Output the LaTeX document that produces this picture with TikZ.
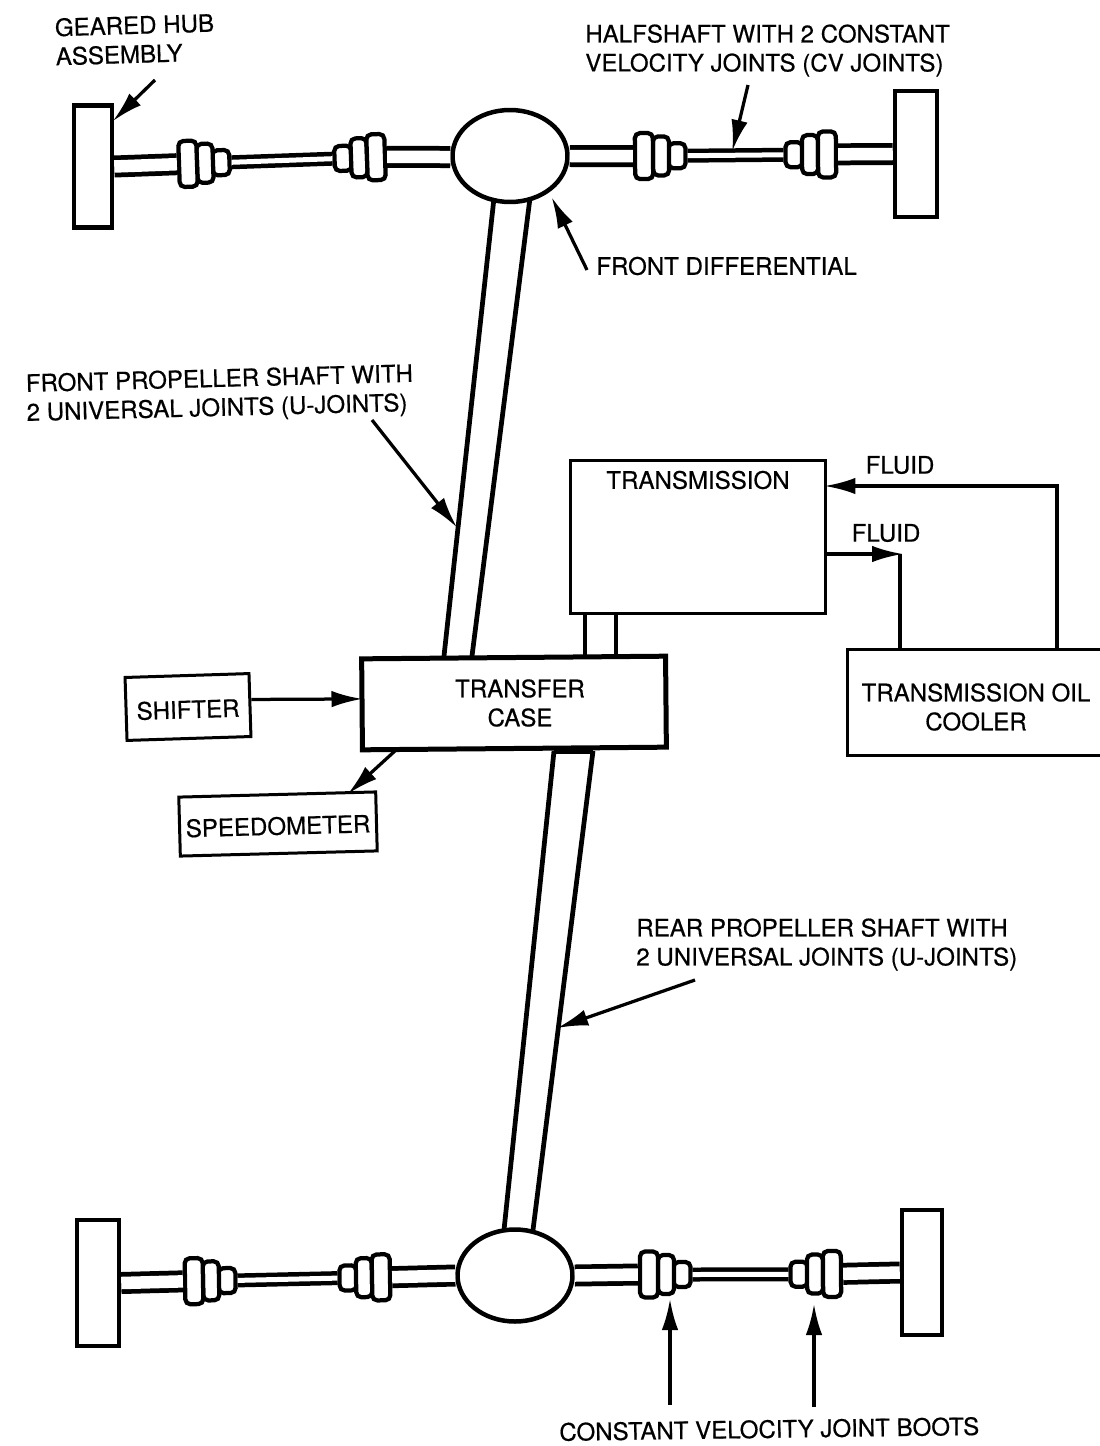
\documentclass[tikz,border=0pt]{standalone}
\usepackage{fontspec}
\setmainfont{TeX Gyre Heros}[BoldFont=TeX Gyre Heros, BoldFeatures={FakeBold=0.5}]
\usetikzlibrary{shapes.geometric, arrows.meta, positioning, calc}
\tikzset{
  hubbox/.style={rectangle, draw, fill=white, line width=0.09cm, minimum width=0.76cm, minimum height=2.44cm, inner sep=0pt},
  diffnode/.style={ellipse, draw, fill=white, line width=0.09cm, minimum width=2.3cm, minimum height=1.84cm, inner sep=0pt},
  bigboot/.style={rectangle, draw, fill=white, line width=0.085cm, rounded corners=0.1cm, minimum width=0.36cm, minimum height=0.92cm, inner sep=0pt, transform shape},
  midboot/.style={bigboot, minimum width=0.32cm, minimum height=0.78cm},
  smallboot/.style={bigboot, minimum width=0.34cm, minimum height=0.5cm},
  tube/.style={draw, line width=0.095cm, double=white, double distance=0.25cm},
  thinshaft/.style={draw, line width=0.09cm, double=white, double distance=0.1cm},
  propline/.style={line width=0.095cm},
  block/.style={rectangle, draw, fill=white, line width=0.06cm, align=center, font=\labelfont, inner sep=0pt},
  txt/.style={align=left, anchor=west, inner sep=0pt, font=\labelfont},
  pipe/.style={line width=0.07cm},
  arrow/.style={-{Latex[length=0.62cm,width=0.33cm]}, line width=0.065cm, shorten >=-0.06cm},
  cvboot/.pic={
    \node[smallboot] (-small) at (24,0) {};
    \node[midboot] (-mid) at (8,0) {};
    \node[bigboot] (-big) at (-9,0) {};
  }
}
\newcommand{\labelfont}{\fontsize{13.7}{16.5}\bfseries\selectfont}
\begin{document}
\begin{tikzpicture}[x=0.02cm, y=-0.02cm]
  \useasboundingbox (0,0) rectangle (1099,1446);

  % Front axle
  \node[hubbox] (hubfl) at (93,166.5) {};
  \node[hubbox, minimum width=0.84cm, minimum height=2.52cm] (hubfr) at (916,154) {};
  \node[diffnode] (fdiff) at (510,156) {};
  \pic[rotate=2] (fla) at (197,163.5) {cvboot};
  \pic[rotate=2, xscale=-1] (flb) at (367,157.5) {cvboot};
  \pic[rotate=0.5] (fra) at (653,156) {cvboot};
  \pic[rotate=0.5, xscale=-1] (frb) at (818,154.5) {cvboot};
  \draw[tube] (hubfl.east) -- (fla-big.west);
  \draw[thinshaft] (fla-small.east) -- (flb-small.east);
  \draw[tube] (flb-big.west) -- (fdiff.181);
  \draw[tube] (fdiff.east) -- (fra-big.west);
  \draw[thinshaft] (fra-small.east) -- (frb-small.east);
  \draw[tube] (frb-big.west) -- (hubfr.west);

  % Rear axle
  \node[hubbox, minimum width=0.84cm, minimum height=2.52cm] (hubrl) at (98,1283) {};
  \node[hubbox, minimum width=0.8cm, minimum height=2.5cm] (hubrr) at (922,1272.5) {};
  \node[diffnode] (rdiff) at (515,1275.5) {};
  \pic[rotate=1] (rla) at (203,1281) {cvboot};
  \pic[rotate=1, xscale=-1] (rlb) at (372,1277.5) {cvboot};
  \pic (rra) at (658,1274.5) {cvboot};
  \pic[rotate=0.5, xscale=-1] (rrb) at (823,1274) {cvboot};
  \draw[tube] (hubrl.east) -- (rla-big.west);
  \draw[thinshaft] (rla-small.east) -- (rlb-small.east);
  \draw[tube] (rlb-big.west) -- (rdiff.west);
  \draw[tube] (rdiff.east) -- (rra-big.west);
  \draw[thinshaft] (rra-small.east) -- (rrb-small.east);
  \draw[tube] (rrb-big.west) -- (hubrr.west);

  % Boxes
  \node[block, minimum width=5.12cm, minimum height=3.08cm] (trans) at (698,537) {};
  \node[txt, anchor=center] (transtxt) at (698,480) {TRANSMISSION};
  \node[block, line width=0.1cm, rotate=0.5, minimum width=6.08cm, minimum height=1.82cm] (tcase) at (514,703) {};
  \node[txt, anchor=center, align=center] (tcasetxt) at (520,703) {TRANSFER\\CASE};
  \node[block, rotate=1.8, text height=0.46cm, minimum width=2.48cm, minimum height=1.26cm] (shifter) at (188,707) {SHIFTER};
  \node[block, rotate=1.5, text height=0.44cm, minimum width=3.94cm, minimum height=1.18cm] (speedo) at (278,824) {SPEEDOMETER};
  \node[block, minimum width=5.16cm, minimum height=2.14cm] (cooler) at (976,702.5) {};
  \node[txt, anchor=center, align=center] (coolertxt) at (976,707) {TRANSMISSION OIL\\COOLER};

  % Propeller shafts
  \coordinate (fpa) at (494,198);
  \coordinate (fpb) at (530,198);
  \coordinate (fpc) at (444,656);
  \coordinate (fpd) at (472,656);
  \draw[propline] (fpa) -- (fpc);
  \draw[propline] (fpb) -- (fpd);
  \coordinate (rpa) at (554,751);
  \coordinate (rpb) at (593,751);
  \coordinate (rpc) at (504,1230);
  \coordinate (rpd) at (533,1230);
  \draw[propline] (rpa) -- (rpc);
  \draw[propline] (rpb) -- (rpd);
  \draw[line width=0.12cm] (rpa) -- (rpb);
  \coordinate (stuba) at (585,614);
  \coordinate (stubb) at (616,614);
  \draw[propline] (stuba) -- (stuba |- tcase.north);
  \draw[propline] (stubb) -- (stubb |- tcase.north);

  % Fluid lines
  \coordinate (fluida) at (1057,486);
  \coordinate (fluidb) at (900,554);
  \draw[arrow] (cooler.north -| fluida) -- (fluida) -- (trans.east |- fluida);
  \draw[arrow] (trans.east |- fluidb) -- (fluidb);
  \draw[pipe] (cooler.north -| fluidb) -- (fluidb);

  % Box connections
  \coordinate (tailspeedo) at (396,750);
  \coordinate (tipspeedo) at (350,792);
  \draw[arrow] (shifter.5.5) -- (tcase.178);
  \draw[arrow] (tailspeedo) -- (tipspeedo);

  % Labels
  \node[txt, rotate=1.7] (lblhub) at (55,42) {GEARED HUB\\ASSEMBLY};
  \node[txt] (lblhalf) at (585,50.5) {HALFSHAFT WITH 2 CONSTANT\\VELOCITY JOINTS (CV JOINTS)};
  \node[txt] (lbldiff) at (596,266) {FRONT DIFFERENTIAL};
  \node[txt, rotate=1.5] (lblfront) at (26,400) {FRONT PROPELLER SHAFT WITH\\2 UNIVERSAL JOINTS (U-JOINTS)};
  \node[txt] (lblrear) at (636,944.5) {REAR PROPELLER SHAFT WITH\\2 UNIVERSAL JOINTS (U-JOINTS)};
  \node[txt, rotate=0.8] (lblboots) at (559,1432) {CONSTANT VELOCITY JOINT BOOTS};
  \node[txt, anchor=center] (lblfluida) at (900,465) {FLUID};
  \node[txt, anchor=center] (lblfluidb) at (886,533) {FLUID};

  % Pointers
  \coordinate (tailhub) at (155,80);
  \coordinate (tiphub) at (115,119);
  \coordinate (tailhalf) at (748,85);
  \coordinate (tiphalf) at (733,148);
  \coordinate (taildiff) at (587,270);
  \coordinate (tipdiff) at (553,200);
  \coordinate (tailfront) at (372,420);
  \coordinate (tipfront) at (455,525);
  \coordinate (tailrear) at (695,980);
  \coordinate (tiprear) at (560,1027);
  \coordinate (tailboota) at (670,1405);
  \coordinate (tipboota) at (670,1302);
  \coordinate (tailbootb) at (814,1407);
  \coordinate (tipbootb) at (814,1307);
  \draw[arrow] (tailhub) -- (tiphub);
  \draw[arrow] (tailhalf) -- (tiphalf);
  \draw[arrow] (taildiff) -- (tipdiff);
  \draw[arrow] (tailfront) -- (tipfront);
  \draw[arrow] (tailrear) -- (tiprear);
  \draw[arrow] (tailboota) -- (tipboota);
  \draw[arrow] (tailbootb) -- (tipbootb);
\end{tikzpicture}
\end{document}
